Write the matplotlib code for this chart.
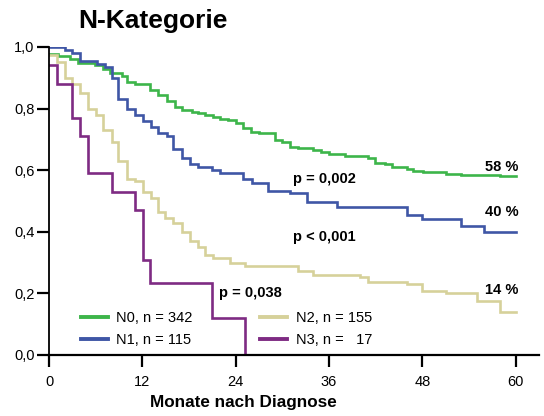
import matplotlib
matplotlib.use("Agg")
import matplotlib.pyplot as plt

plt.rcParams['font.family'] = ['Liberation Sans', 'DejaVu Sans']

# Kaplan-Meier-Stufen je N-Kategorie (Monate, Überlebensanteil)
n0_t = [0, 1.2, 2.7, 3.7, 5.9, 6.9, 7.8, 9.4, 10.0, 11.0, 13.0, 14.0, 15.2, 16.2, 17.1,
        18.4, 19.2, 20.0, 21.1, 22.0, 23.0, 24.0, 24.9, 26.0, 27.0, 29.0, 30.0, 31.0,
        32.0, 33.9, 35.0, 36.0, 38.0, 41.0, 41.9, 43.2, 44.1, 46.0, 46.8, 48.1, 51.0,
        53.0, 58.0]
n0_s = [0.977, 0.97, 0.96, 0.948, 0.94, 0.93, 0.915, 0.905, 0.886, 0.88, 0.86, 0.845,
        0.825, 0.805, 0.795, 0.79, 0.785, 0.78, 0.773, 0.766, 0.763, 0.753, 0.737, 0.724,
        0.72, 0.698, 0.69, 0.675, 0.672, 0.665, 0.66, 0.653, 0.647, 0.64, 0.625, 0.62,
        0.61, 0.604, 0.597, 0.594, 0.589, 0.584, 0.58]

n1_t = [0, 2.1, 3.0, 4.0, 6.2, 7.2, 8.1, 8.9, 10.0, 11.0, 12.1, 13.1, 14.0, 15.2, 15.9,
        17.1, 18.1, 19.2, 21.0, 22.0, 24.9, 26.1, 28.1, 31.0, 33.2, 37.0, 46.0, 47.9,
        53.0, 55.9]
n1_s = [1.0, 0.99, 0.98, 0.955, 0.945, 0.935, 0.90, 0.83, 0.80, 0.78, 0.76, 0.74, 0.72,
        0.71, 0.67, 0.64, 0.62, 0.61, 0.60, 0.59, 0.57, 0.56, 0.533, 0.525, 0.497, 0.48,
        0.455, 0.44, 0.42, 0.40]

n2_t = [0, 1.0, 2.1, 3.0, 4.0, 5.0, 6.0, 6.9, 8.1, 8.9, 10.0, 11.0, 12.1, 13.1, 14.0,
        14.9, 15.9, 17.1, 18.1, 19.2, 20.0, 21.1, 23.3, 25.2, 32.0, 33.9, 40.0, 41.0,
        46.0, 47.9, 51.0, 55.0, 58.0]
n2_s = [0.974, 0.951, 0.90, 0.88, 0.851, 0.80, 0.78, 0.73, 0.69, 0.63, 0.57, 0.565,
        0.53, 0.51, 0.465, 0.445, 0.43, 0.40, 0.37, 0.35, 0.325, 0.315, 0.30, 0.29, 0.272,
        0.26, 0.253, 0.237, 0.23, 0.208, 0.20, 0.175, 0.14]

n3_t = [0, 1.0, 3.0, 4.0, 5.0, 8.1, 11.1, 12.1, 13.0, 21.0, 25.2]
n3_s = [0.94, 0.88, 0.77, 0.71, 0.59, 0.53, 0.47, 0.31, 0.235, 0.12, 0.0]

ende = 60
labels = ["N0, n = 342", "N1, n = 115", "N2, n = 155", "N3, n =   17"]
farben = ["#3DB54A", "#3F56A6", "#D6D19A", "#7E2B83"]

x_ticks = [0, 12, 24, 36, 48, 60]
y_ticks = [0.0, 0.2, 0.4, 0.6, 0.8, 1.0]
y_ticklabels = ["0,0", "0,2", "0,4", "0,6", "0,8", "1,0"]

fig = plt.figure(figsize=(5.44, 4.16), dpi=100)
ax = fig.add_axes([49 / 544, 1 - 355 / 416, 490 / 544, 308 / 416])

kurven = [(n0_t, n0_s), (n1_t, n1_s), (n2_t, n2_s), (n3_t, n3_s)]
handles = []
for (t, s), farbe, lab in zip(kurven, farben, labels):
    t = list(t)
    s = list(s)
    if s[-1] > 0:
        t.append(ende)
        s.append(s[-1])
    h, = ax.step(t, s, where='post', color=farbe, lw=1.9, label=lab,
                 solid_joinstyle='miter')
    handles.append(h)

ax.set_xlim(0, 63)
ax.set_ylim(0, 1.0)
ax.set_xticks(x_ticks)
ax.set_yticks(y_ticks)
ax.set_yticklabels(y_ticklabels)
ax.tick_params(axis='both', direction='out', length=8.5, width=1.6, labelsize=10.5)
ax.tick_params(axis='x', pad=6)
ax.tick_params(axis='y', pad=2)
for side in ['top', 'right']:
    ax.spines[side].set_visible(False)
ax.spines['left'].set_linewidth(1.3)
ax.spines['bottom'].set_linewidth(1.6)

# Legende zweispaltig
leg = ax.legend(handles=handles, ncol=2, frameon=False, fontsize=10.5,
                loc='lower left', bbox_to_anchor=(0.038, -0.018), handlelength=1.85,
                handletextpad=0.6, columnspacing=4.6, labelspacing=0.55)
for line in leg.get_lines():
    line.set_linewidth(2.8)

# p-Werte und Endwerte
ax.text(31.4, (355 - 179) / 308, "p = 0,002", fontsize=10.5, fontweight='bold',
        va='center', ha='left')
ax.text(31.4, (355 - 237) / 308, "p < 0,001", fontsize=10.5, fontweight='bold',
        va='center', ha='left')
ax.text(21.8, (355 - 293) / 308, "p = 0,038", fontsize=10.5, fontweight='bold',
        va='center', ha='left')
ax.text(60.4, 0.61, "58 %", fontsize=10.5, fontweight='bold', va='center', ha='right')
ax.text(60.4, 0.465, "40 %", fontsize=10.5, fontweight='bold', va='center', ha='right')
ax.text(60.4, 0.21, "14 %", fontsize=10.5, fontweight='bold', va='center', ha='right')

fig.text(153 / 544, 1 - 21 / 416, "N-Kategorie", fontsize=19, fontweight='bold',
         ha='center', va='center')
fig.text(243 / 544, 1 - 403 / 416, "Monate nach Diagnose", fontsize=12.3,
         fontweight='bold', ha='center', va='center')

fig.savefig("out.png", dpi=100)
